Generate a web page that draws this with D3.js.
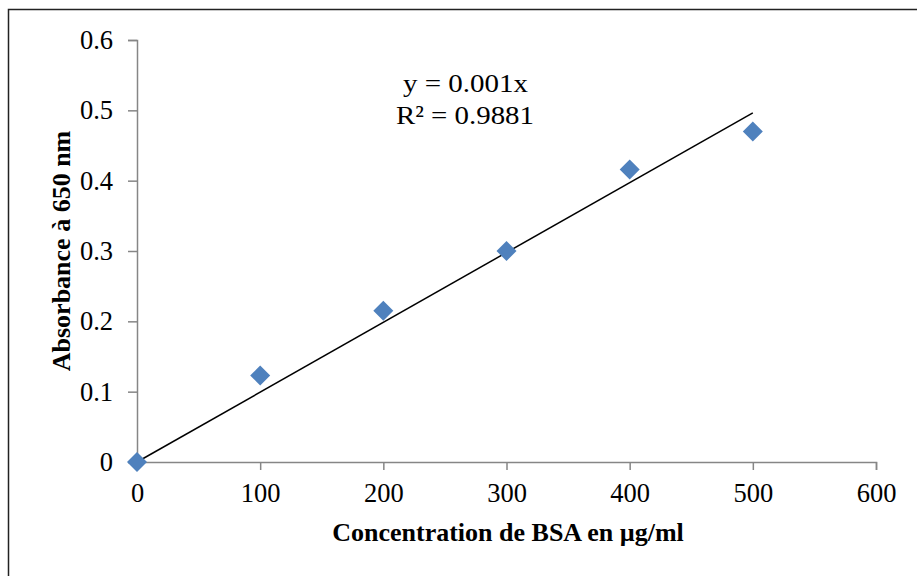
<!DOCTYPE html>
<html><head><meta charset="utf-8">
<script src="https://cdn.jsdelivr.net/npm/d3@7"></script>
<style>
body{margin:0;background:#fff;}
svg{display:block;font-family:"Liberation Serif","Times New Roman",serif;}
</style></head>
<body>
<svg id="c" width="917" height="576"></svg>
<script>
const concentrations = [0, 100, 200, 300, 400, 500];
const absorbances = [0, 0.123, 0.215, 0.300, 0.416, 0.470];
const xTicks = [0, 100, 200, 300, 400, 500, 600];
const yTicks = [0, 0.1, 0.2, 0.3, 0.4, 0.5, 0.6];
const trendSlope = 0.000993;
const trendRange = [0, 500];
const equationLines = ["y = 0.001x", "R² = 0.9881"];
const xTitle = "Concentration de BSA en µg/ml";
const yTitle = "Absorbance à 650 nm";

const serif = "Liberation Serif, Times New Roman, serif";
const svg = d3.select("#c");
svg.append("rect").attr("x",8.5).attr("y",9.5).attr("width",930).attr("height",600)
  .attr("fill","none").attr("stroke","#222").attr("stroke-width",1.5);

const x = d3.scaleLinear().domain([0,600]).range([137,876]);
const y = d3.scaleLinear().domain([0,0.6]).range([462,40]);

const axisColor = "#868686";
const yAxis = svg.append("g").attr("transform","translate(137,0)")
  .call(d3.axisLeft(y).tickValues(yTicks).tickSize(9).tickPadding(15)
    .tickFormat(d => d === 0 ? "0" : d3.format(".1f")(d)));
const xAxis = svg.append("g").attr("transform","translate(0,462)")
  .call(d3.axisBottom(x).tickValues(xTicks).tickSize(8).tickPadding(13)
    .tickFormat(d3.format("d")));
[yAxis, xAxis].forEach(g => {
  g.attr("font-family", serif);
  g.select(".domain").attr("stroke",axisColor).attr("stroke-width",1.5);
  g.selectAll(".tick line").attr("stroke",axisColor).attr("stroke-width",1.5);
  g.selectAll(".tick text").attr("fill","#000").attr("font-size",26.5)
    .attr("font-family", serif);
});
xAxis.selectAll(".tick text").attr("dy","0.71em");

// trendline
svg.append("line")
  .attr("x1",x(trendRange[0])).attr("y1",y(trendSlope*trendRange[0]))
  .attr("x2",x(trendRange[1])).attr("y2",y(trendSlope*trendRange[1]))
  .attr("stroke","#000").attr("stroke-width",1.5);

// markers
const r = 10;
svg.append("g").selectAll("path").data(concentrations.map((c,i)=>[c,absorbances[i]]))
  .join("path")
  .attr("d", d => `M${x(d[0])},${y(d[1])-r}L${x(d[0])+r},${y(d[1])}L${x(d[0])},${y(d[1])+r}L${x(d[0])-r},${y(d[1])}Z`)
  .attr("fill","#4F81BD");

// equation
svg.append("text").attr("x",465.5).attr("y",92).attr("text-anchor","middle")
  .attr("font-size",26).attr("textLength",125).attr("lengthAdjust","spacingAndGlyphs")
  .text(equationLines[0]);
svg.append("text").attr("x",465).attr("y",124).attr("text-anchor","middle")
  .attr("font-size",26).attr("textLength",138).attr("lengthAdjust","spacingAndGlyphs")
  .text(equationLines[1]);

// axis titles
svg.append("text").attr("x",508).attr("y",541).attr("text-anchor","middle")
  .attr("font-size",26).attr("font-weight","bold").text(xTitle);
svg.append("text").attr("transform","translate(70,251) rotate(-90)")
  .attr("text-anchor","middle").attr("font-size",26).attr("font-weight","bold").text(yTitle);
</script>
</body></html>
